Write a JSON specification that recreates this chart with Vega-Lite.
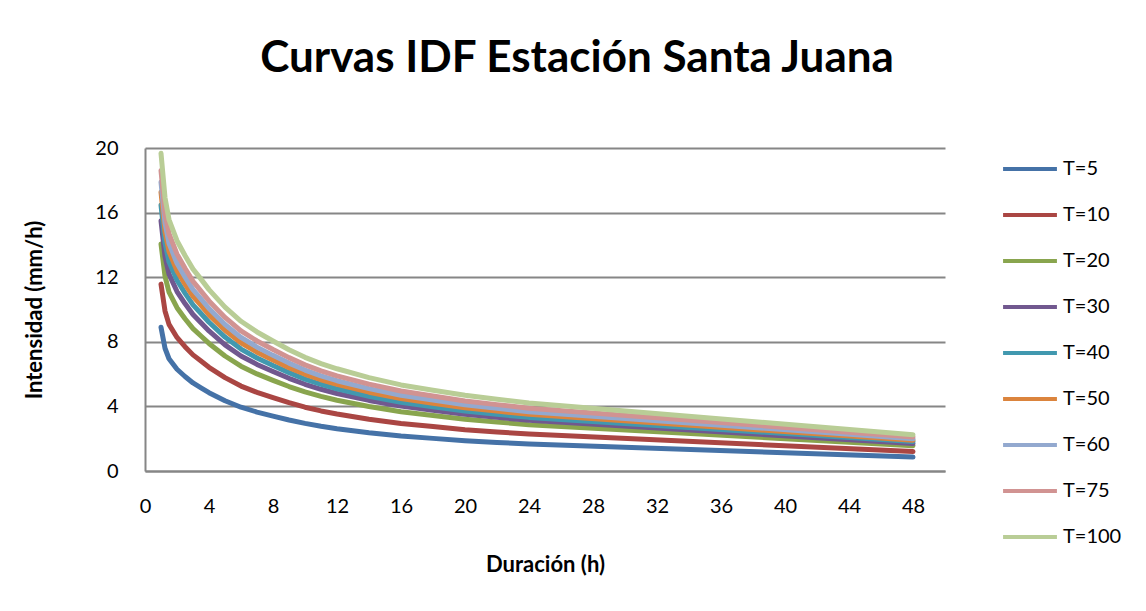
{
  "$schema": "https://vega.github.io/schema/vega-lite/v6.json",
  "width": 800,
  "height": 323,
  "autosize": {"type": "none"},
  "padding": {"left": 145, "top": 148, "right": 201, "bottom": 140},
  "background": "white",
  "config": {
    "font": "Lato",
    "view": {"stroke": null},
    "axis": {"labelFont": "Lato", "titleFont": "Lato", "labelColor": "#000000", "titleColor": "#000000"}
  },
  "title": {
    "text": "Curvas IDF Estación Santa Juana",
    "font": "Lato",
    "fontSize": 44,
    "fontWeight": "bold",
    "color": "#000000",
    "anchor": "middle",
    "frame": "group",
    "dx": 32,
    "baseline": "alphabetic",
    "offset": 22
  },
  "data": {
    "values": [
      {"d":1,"T":"T=5","v":8.9},{"d":1.25,"T":"T=5","v":7.6},{"d":1.5,"T":"T=5","v":6.95},{"d":2,"T":"T=5","v":6.3},{"d":2.5,"T":"T=5","v":5.85},{"d":3,"T":"T=5","v":5.45},{"d":3.5,"T":"T=5","v":5.15},{"d":4,"T":"T=5","v":4.85},{"d":5,"T":"T=5","v":4.35},{"d":6,"T":"T=5","v":3.95},{"d":7,"T":"T=5","v":3.65},{"d":8,"T":"T=5","v":3.4},{"d":9,"T":"T=5","v":3.16},{"d":10,"T":"T=5","v":2.95},{"d":11,"T":"T=5","v":2.77},{"d":12,"T":"T=5","v":2.62},{"d":14,"T":"T=5","v":2.37},{"d":16,"T":"T=5","v":2.17},{"d":18,"T":"T=5","v":2.02},{"d":20,"T":"T=5","v":1.88},{"d":22,"T":"T=5","v":1.77},{"d":24,"T":"T=5","v":1.67},{"d":48,"T":"T=5","v":0.86},
      {"d":1,"T":"T=10","v":11.57},{"d":1.25,"T":"T=10","v":9.91},{"d":1.5,"T":"T=10","v":9.08},{"d":2,"T":"T=10","v":8.27},{"d":2.5,"T":"T=10","v":7.7},{"d":3,"T":"T=10","v":7.19},{"d":3.5,"T":"T=10","v":6.81},{"d":4,"T":"T=10","v":6.42},{"d":5,"T":"T=10","v":5.78},{"d":6,"T":"T=10","v":5.26},{"d":7,"T":"T=10","v":4.87},{"d":8,"T":"T=10","v":4.54},{"d":9,"T":"T=10","v":4.23},{"d":10,"T":"T=10","v":3.95},{"d":11,"T":"T=10","v":3.72},{"d":12,"T":"T=10","v":3.53},{"d":14,"T":"T=10","v":3.2},{"d":16,"T":"T=10","v":2.94},{"d":18,"T":"T=10","v":2.75},{"d":20,"T":"T=10","v":2.56},{"d":22,"T":"T=10","v":2.42},{"d":24,"T":"T=10","v":2.29},{"d":48,"T":"T=10","v":1.2},
      {"d":1,"T":"T=20","v":14.06},{"d":1.25,"T":"T=20","v":12.07},{"d":1.5,"T":"T=20","v":11.08},{"d":2,"T":"T=20","v":10.11},{"d":2.5,"T":"T=20","v":9.43},{"d":3,"T":"T=20","v":8.82},{"d":3.5,"T":"T=20","v":8.36},{"d":4,"T":"T=20","v":7.9},{"d":5,"T":"T=20","v":7.12},{"d":6,"T":"T=20","v":6.49},{"d":7,"T":"T=20","v":6.01},{"d":8,"T":"T=20","v":5.61},{"d":9,"T":"T=20","v":5.23},{"d":10,"T":"T=20","v":4.9},{"d":11,"T":"T=20","v":4.62},{"d":12,"T":"T=20","v":4.38},{"d":14,"T":"T=20","v":3.99},{"d":16,"T":"T=20","v":3.67},{"d":18,"T":"T=20","v":3.43},{"d":20,"T":"T=20","v":3.21},{"d":22,"T":"T=20","v":3.03},{"d":24,"T":"T=20","v":2.87},{"d":48,"T":"T=20","v":1.57},
      {"d":1,"T":"T=30","v":15.49},{"d":1.25,"T":"T=30","v":13.28},{"d":1.5,"T":"T=30","v":12.19},{"d":2,"T":"T=30","v":11.11},{"d":2.5,"T":"T=30","v":10.37},{"d":3,"T":"T=30","v":9.69},{"d":3.5,"T":"T=30","v":9.18},{"d":4,"T":"T=30","v":8.67},{"d":5,"T":"T=30","v":7.81},{"d":6,"T":"T=30","v":7.12},{"d":7,"T":"T=30","v":6.6},{"d":8,"T":"T=30","v":6.16},{"d":9,"T":"T=30","v":5.74},{"d":10,"T":"T=30","v":5.37},{"d":11,"T":"T=30","v":5.06},{"d":12,"T":"T=30","v":4.8},{"d":14,"T":"T=30","v":4.37},{"d":16,"T":"T=30","v":4.02},{"d":18,"T":"T=30","v":3.76},{"d":20,"T":"T=30","v":3.51},{"d":22,"T":"T=30","v":3.32},{"d":24,"T":"T=30","v":3.14},{"d":48,"T":"T=30","v":1.7},
      {"d":1,"T":"T=40","v":16.47},{"d":1.25,"T":"T=40","v":14.12},{"d":1.5,"T":"T=40","v":12.95},{"d":2,"T":"T=40","v":11.81},{"d":2.5,"T":"T=40","v":11.01},{"d":3,"T":"T=40","v":10.29},{"d":3.5,"T":"T=40","v":9.75},{"d":4,"T":"T=40","v":9.21},{"d":5,"T":"T=40","v":8.29},{"d":6,"T":"T=40","v":7.55},{"d":7,"T":"T=40","v":7.0},{"d":8,"T":"T=40","v":6.53},{"d":9,"T":"T=40","v":6.09},{"d":10,"T":"T=40","v":5.69},{"d":11,"T":"T=40","v":5.37},{"d":12,"T":"T=40","v":5.09},{"d":14,"T":"T=40","v":4.63},{"d":16,"T":"T=40","v":4.26},{"d":18,"T":"T=40","v":3.98},{"d":20,"T":"T=40","v":3.72},{"d":22,"T":"T=40","v":3.51},{"d":24,"T":"T=40","v":3.32},{"d":48,"T":"T=40","v":1.82},
      {"d":1,"T":"T=50","v":17.27},{"d":1.25,"T":"T=50","v":14.81},{"d":1.5,"T":"T=50","v":13.59},{"d":2,"T":"T=50","v":12.39},{"d":2.5,"T":"T=50","v":11.57},{"d":3,"T":"T=50","v":10.81},{"d":3.5,"T":"T=50","v":10.25},{"d":4,"T":"T=50","v":9.67},{"d":5,"T":"T=50","v":8.72},{"d":6,"T":"T=50","v":7.94},{"d":7,"T":"T=50","v":7.36},{"d":8,"T":"T=50","v":6.87},{"d":9,"T":"T=50","v":6.4},{"d":10,"T":"T=50","v":5.99},{"d":11,"T":"T=50","v":5.65},{"d":12,"T":"T=50","v":5.36},{"d":14,"T":"T=50","v":4.88},{"d":16,"T":"T=50","v":4.49},{"d":18,"T":"T=50","v":4.2},{"d":20,"T":"T=50","v":3.92},{"d":22,"T":"T=50","v":3.71},{"d":24,"T":"T=50","v":3.51},{"d":48,"T":"T=50","v":1.91},
      {"d":1,"T":"T=60","v":17.89},{"d":1.25,"T":"T=60","v":15.35},{"d":1.5,"T":"T=60","v":14.1},{"d":2,"T":"T=60","v":12.86},{"d":2.5,"T":"T=60","v":12.02},{"d":3,"T":"T=60","v":11.23},{"d":3.5,"T":"T=60","v":10.66},{"d":4,"T":"T=60","v":10.06},{"d":5,"T":"T=60","v":9.07},{"d":6,"T":"T=60","v":8.27},{"d":7,"T":"T=60","v":7.67},{"d":8,"T":"T=60","v":7.16},{"d":9,"T":"T=60","v":6.68},{"d":10,"T":"T=60","v":6.25},{"d":11,"T":"T=60","v":5.89},{"d":12,"T":"T=60","v":5.59},{"d":14,"T":"T=60","v":5.1},{"d":16,"T":"T=60","v":4.69},{"d":18,"T":"T=60","v":4.39},{"d":20,"T":"T=60","v":4.1},{"d":22,"T":"T=60","v":3.88},{"d":24,"T":"T=60","v":3.67},{"d":48,"T":"T=60","v":2.0},
      {"d":1,"T":"T=75","v":18.6},{"d":1.25,"T":"T=75","v":15.98},{"d":1.5,"T":"T=75","v":14.69},{"d":2,"T":"T=75","v":13.43},{"d":2.5,"T":"T=75","v":12.55},{"d":3,"T":"T=75","v":11.74},{"d":3.5,"T":"T=75","v":11.14},{"d":4,"T":"T=75","v":10.53},{"d":5,"T":"T=75","v":9.51},{"d":6,"T":"T=75","v":8.67},{"d":7,"T":"T=75","v":8.05},{"d":8,"T":"T=75","v":7.52},{"d":9,"T":"T=75","v":7.02},{"d":10,"T":"T=75","v":6.57},{"d":11,"T":"T=75","v":6.2},{"d":12,"T":"T=75","v":5.89},{"d":14,"T":"T=75","v":5.38},{"d":16,"T":"T=75","v":4.95},{"d":18,"T":"T=75","v":4.64},{"d":20,"T":"T=75","v":4.34},{"d":22,"T":"T=75","v":4.11},{"d":24,"T":"T=75","v":3.89},{"d":48,"T":"T=75","v":2.11},
      {"d":1,"T":"T=100","v":19.67},{"d":1.25,"T":"T=100","v":16.93},{"d":1.5,"T":"T=100","v":15.57},{"d":2,"T":"T=100","v":14.26},{"d":2.5,"T":"T=100","v":13.34},{"d":3,"T":"T=100","v":12.5},{"d":3.5,"T":"T=100","v":11.88},{"d":4,"T":"T=100","v":11.23},{"d":5,"T":"T=100","v":10.15},{"d":6,"T":"T=100","v":9.27},{"d":7,"T":"T=100","v":8.61},{"d":8,"T":"T=100","v":8.05},{"d":9,"T":"T=100","v":7.51},{"d":10,"T":"T=100","v":7.04},{"d":11,"T":"T=100","v":6.65},{"d":12,"T":"T=100","v":6.33},{"d":14,"T":"T=100","v":5.78},{"d":16,"T":"T=100","v":5.33},{"d":18,"T":"T=100","v":5.0},{"d":20,"T":"T=100","v":4.69},{"d":22,"T":"T=100","v":4.44},{"d":24,"T":"T=100","v":4.21},{"d":48,"T":"T=100","v":2.24}
    ]
  },
  "mark": {"type": "line", "strokeWidth": 5, "strokeCap": "round", "strokeJoin": "round", "interpolate": "linear"},
  "encoding": {
    "x": {
      "field": "d", "type": "quantitative",
      "scale": {"domain": [0, 50], "nice": false},
      "axis": {
        "title": "Duración (h)",
        "values": [0,4,8,12,16,20,24,28,32,36,40,44,48],
        "grid": false, "ticks": false,
        "domainColor": "#868686", "domainWidth": 2,
        "labelFontSize": 20, "labelPadding": 25, "labelFlush": false,
        "titleFontSize": 22, "titleFontWeight": "bold", "titlePadding": 38,
        "titleAnchor": "middle"
      }
    },
    "y": {
      "field": "v", "type": "quantitative",
      "scale": {"domain": [0, 20], "nice": false},
      "axis": {
        "title": "Intensidad (mm/h)",
        "values": [0,4,8,12,16,20],
        "grid": true, "gridColor": "#868686", "gridWidth": 2,
        "ticks": false,
        "domainColor": "#868686", "domainWidth": 2,
        "labelFontSize": 20, "labelPadding": 27,
        "titleFontSize": 22, "titleFontWeight": "bold", "titlePadding": 48
      }
    },
    "color": {
      "field": "T", "type": "nominal",
      "scale": {
        "domain": ["T=5","T=10","T=20","T=30","T=40","T=50","T=60","T=75","T=100"],
        "range": ["#4572A7","#AA4643","#89A54E","#71588F","#4198AF","#DB843D","#93A9CF","#D19392","#B9CD96"]
      },
      "legend": {
        "title": null,
        "orient": "none",
        "legendX": 856,
        "legendY": -8,
        "padding": 0,
        "symbolType": "stroke",
        "symbolSize": 2900,
        "symbolStrokeWidth": 4,
        "labelFontSize": 20,
        "labelFont": "Lato",
        "labelColor": "#000000",
        "labelOffset": 4,
        "rowPadding": 7
      }
    }
  }
}
